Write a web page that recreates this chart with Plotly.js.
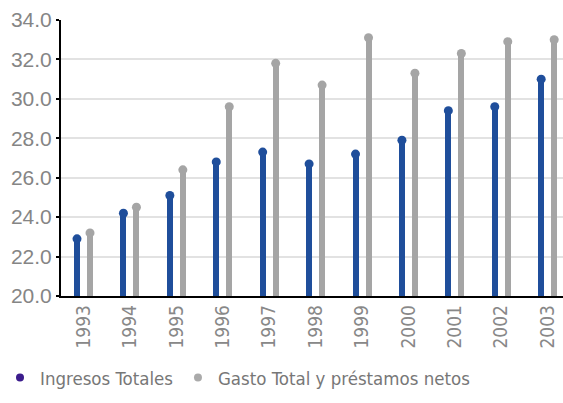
<!DOCTYPE html>
<html>
<head>
<meta charset="utf-8">
<script src="https://cdn.plot.ly/plotly-3.0.1.min.js"></script>
<style>
  html, body { margin: 0; padding: 0; background: #ffffff; }
  #chart { width: 563px; height: 403px; }
</style>
</head>
<body>
<div id="chart"></div>
<script>
// Años y series (% del PIB)
const years = ['1993', '1994', '1995', '1996', '1997', '1998', '1999', '2000', '2001', '2002', '2003'];
const ingresosTotales = [22.9, 24.2, 25.1, 26.8, 27.3, 26.7, 27.2, 27.9, 29.4, 29.6, 31.0];
const gastoTotal = [23.2, 24.5, 26.4, 29.6, 31.8, 30.7, 33.1, 31.3, 32.3, 32.9, 33.0];
const yTicks = [20, 22, 24, 26, 28, 30, 32, 34];

const seriesNames = ['Ingresos Totales', 'Gasto Total y préstamos netos'];

// Estilo de los tallos y sus remates
const stemColors = ['#1f4e9b', '#a5a5a5'];
const legendColors = ['#3b1c8c', '#aaaaaa'];
const stemWidth = 0.13;
const pairShift = 0.14;

const idx = years.map((_, i) => i);
const xIngresos = idx.map(i => i - pairShift);
const xGasto = idx.map(i => i + pairShift);

function stem(x, y, color) {
  return {
    type: 'bar', x: x, y: y, width: stemWidth,
    marker: { color: color, line: { width: 0 } },
    showlegend: false, hoverinfo: 'skip'
  };
}
function cap(x, y, color) {
  return {
    type: 'scatter', mode: 'markers', x: x, y: y,
    marker: { color: color, size: 9, symbol: 'circle' },
    showlegend: false, cliponaxis: false
  };
}
function legendEntry(name, color) {
  return {
    type: 'scatter', mode: 'markers', x: [null], y: [null], name: name,
    marker: { color: color, size: 8, symbol: 'circle' }
  };
}

const data = [
  stem(xIngresos, ingresosTotales, stemColors[0]),
  stem(xGasto, gastoTotal, stemColors[1]),
  cap(xIngresos, ingresosTotales, stemColors[0]),
  cap(xGasto, gastoTotal, stemColors[1]),
  legendEntry(seriesNames[0], legendColors[0]),
  legendEntry(seriesNames[1], legendColors[1])
];

const layout = {
  width: 563, height: 403,
  margin: { l: 61, r: 0, t: 20, b: 107 },
  paper_bgcolor: '#ffffff',
  plot_bgcolor: '#ffffff',
  showlegend: true,
  legend: {
    orientation: 'h',
    xref: 'container', yref: 'container',
    x: 0, xanchor: 'left',
    y: 0.062, yanchor: 'middle',
    font: { family: 'DejaVu Sans Condensed, DejaVu Sans, sans-serif', size: 18.5, color: '#777777' },
    itemwidth: 30,
    bgcolor: 'rgba(0,0,0,0)'
  },
  xaxis: {
    range: [-0.485, 10.33],
    tickmode: 'array', tickvals: idx, ticktext: years,
    tickangle: -90,
    tickfont: { family: 'DejaVu Sans Condensed, DejaVu Sans, sans-serif', size: 19, color: '#888888' },
    showgrid: false, zeroline: false,
    showline: true, linecolor: '#000000', linewidth: 1.5,
    ticks: '', fixedrange: true
  },
  yaxis: {
    range: [20, 34],
    tickmode: 'array', tickvals: yTicks,
    ticktext: yTicks.map(v => v.toFixed(1)),
    tickfont: { family: 'Liberation Sans, Arial, sans-serif', size: 21, color: '#858585' },
    showgrid: true, gridcolor: '#e2e2e2', gridwidth: 2,
    zeroline: false,
    showline: true, linecolor: '#000000', linewidth: 2,
    ticks: 'outside', ticklen: 3, tickwidth: 2, tickcolor: '#000000',
    fixedrange: true
  },
  bargap: 0
};

Plotly.newPlot('chart', data, layout, { displayModeBar: false, staticPlot: true });
</script>
</body>
</html>
